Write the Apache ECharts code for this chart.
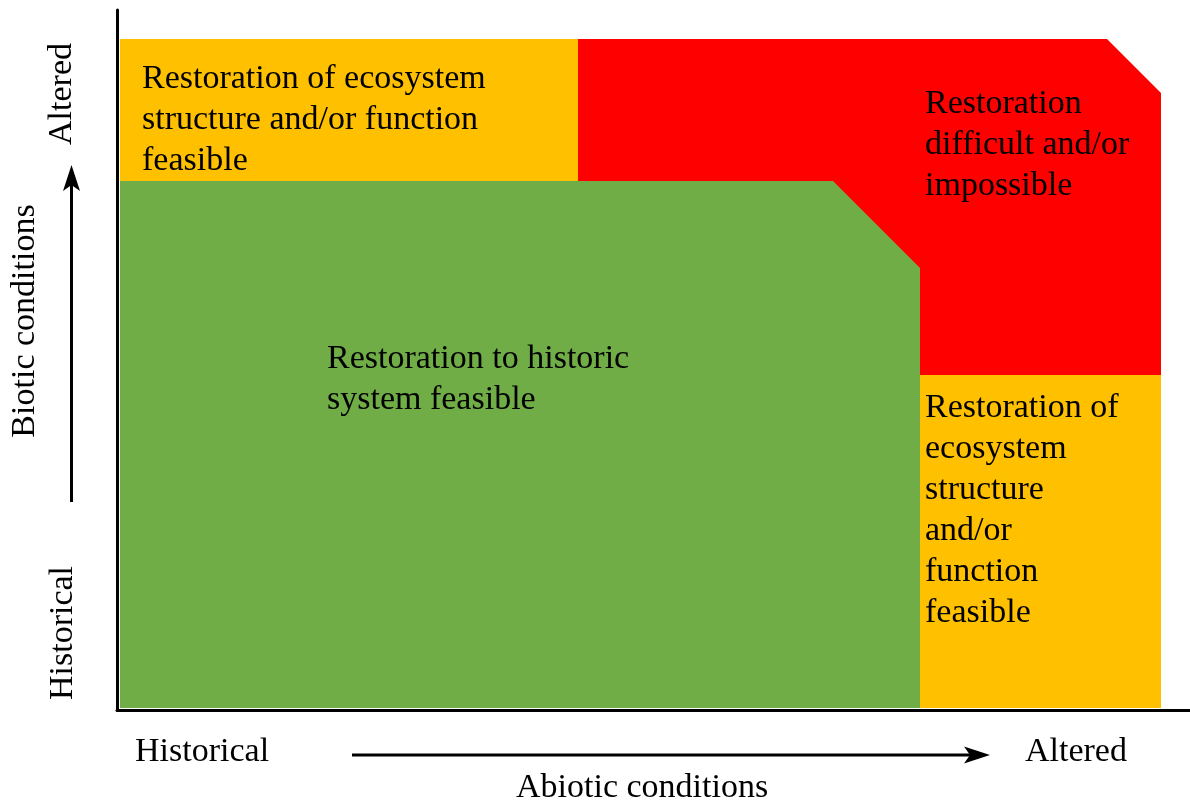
<!DOCTYPE html>
<html>
<head>
<meta charset="utf-8">
<script src="https://cdn.jsdelivr.net/npm/echarts@6.0.0/dist/echarts.min.js"></script>
<style>
  html, body { margin: 0; padding: 0; background: #fff; }
  #chart { width: 1190px; height: 801px; }
</style>
</head>
<body>
<div id="chart"></div>
<script>
// 区域顶点 (abiotic, biotic)，单位为坐标轴的值
// 红色区域伸到绿色区域下面，由绿色盖住斜角
const zoneRed = [[46.1, 67.1], [99.0, 67.1], [104.4, 61.7], [104.4, 33.5], [70.0, 33.5], [70.0, 52.9], [46.1, 52.9]]
const zoneTopLeft = [[0.3, 52.9], [46.1, 52.9], [46.1, 67.1], [0.3, 67.1]]
const zoneBottomRight = [[80.3, 0.2], [104.4, 0.2], [104.4, 33.5], [80.3, 33.5]]
const zoneGreen = [[0.3, 52.9], [71.6, 52.9], [80.3, 44.2], [80.3, 0.2], [0.3, 0.2]]

// 区域文字
const labelTopLeft = 'Restoration of ecosystem\nstructure and/or function\nfeasible'
const labelRed = 'Restoration\ndifficult and/or\nimpossible'
const labelGreen = 'Restoration to historic\nsystem feasible'
const labelBottomRight = 'Restoration of\necosystem\nstructure\nand/or\nfunction\nfeasible'

// 轴文字
const xAxisTicks = ['Historical', 'Altered']
const yAxisTicks = ['Historical', 'Altered']
const xAxisTitle = 'Abiotic conditions'
const yAxisTitle = 'Biotic conditions'

const zones = [zoneRed, zoneTopLeft, zoneBottomRight, zoneGreen]
const zoneColors = ['#FF0000', '#FFC000', '#FFC000', '#70AD47']

const font = "'Liberation Serif', 'Times New Roman', serif"

function regionText (text, x, y) {
  return {
    type: 'text',
    x: x,
    y: y,
    z: 10,
    style: {
      text: text,
      font: `34px ${font}`,
      lineHeight: 41,
      fill: '#000',
      align: 'left',
      verticalAlign: 'top'
    }
  }
}

function axisText (text, x, y) {
  return {
    type: 'text',
    x: x,
    y: y,
    z: 10,
    style: {
      text: text,
      font: `34px ${font}`,
      fill: '#000',
      align: 'left',
      verticalAlign: 'middle'
    }
  }
}

// 竖排文字 (从下往上读)
function vText (text, x, y) {
  return {
    type: 'text',
    x: x,
    y: y,
    rotation: Math.PI / 2,
    z: 10,
    style: {
      text: text,
      font: `34px ${font}`,
      fill: '#000',
      align: 'center',
      verticalAlign: 'middle'
    }
  }
}

const chart = echarts.init(document.getElementById('chart'))

const option = {
  backgroundColor: '#fff',
  animation: false,
  grid: {
    left: 117,
    top: 10,
    right: 0,
    bottom: 91
  },
  xAxis: {
    type: 'value',
    min: 0,
    max: 107.3,
    axisLine: { show: true, lineStyle: { color: '#000', width: 3 } },
    axisTick: { show: false },
    axisLabel: { show: false },
    splitLine: { show: false }
  },
  yAxis: {
    type: 'value',
    min: 0,
    max: 70,
    axisLine: { show: true, lineStyle: { color: '#000', width: 3 } },
    axisTick: { show: false },
    axisLabel: { show: false },
    splitLine: { show: false }
  },
  series: [
    {
      type: 'custom',
      clip: false,
      z: 1,
      renderItem (params, api) {
        const pts = zones[params.dataIndex].map(p => api.coord(p))
        return {
          type: 'polygon',
          shape: { points: pts },
          style: { fill: zoneColors[params.dataIndex] }
        }
      },
      data: zones.map((z, i) => [z[0][0], z[0][1], i])
    }
  ],
  graphic: [
    regionText(labelTopLeft, 142, 59),
    regionText(labelRed, 925, 84),
    regionText(labelGreen, 327, 339),
    regionText(labelBottomRight, 925, 388),

    // x 轴
    axisText(xAxisTicks[0], 135, 752),
    axisText(xAxisTicks[1], 1025, 752),
    axisText(xAxisTitle, 516, 788),
    {
      type: 'line',
      shape: { x1: 352, y1: 755, x2: 972, y2: 755 },
      style: { stroke: '#000', lineWidth: 3 }
    },
    {
      type: 'polygon',
      shape: { points: [[990, 755], [964, 746.5], [970, 755], [964, 763.5]] },
      style: { fill: '#000' }
    },

    // y 轴
    vText(yAxisTicks[1], 62, 94),
    vText(yAxisTitle, 25, 321),
    vText(yAxisTicks[0], 63, 633),
    {
      type: 'line',
      shape: { x1: 71.5, y1: 502, x2: 71.5, y2: 182 },
      style: { stroke: '#000', lineWidth: 3 }
    },
    {
      type: 'polygon',
      shape: { points: [[71.5, 165], [63, 191], [71.5, 185], [80, 191]] },
      style: { fill: '#000' }
    }
  ]
}

chart.setOption(option)
</script>
</body>
</html>
